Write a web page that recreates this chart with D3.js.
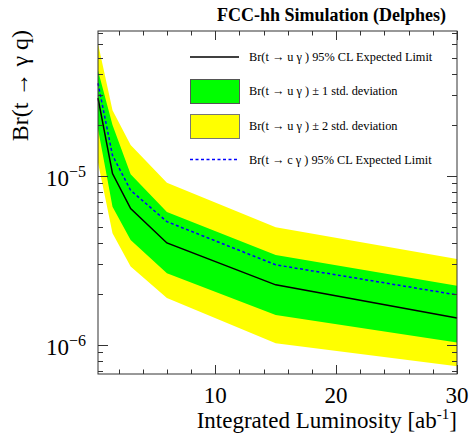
<!DOCTYPE html>
<html>
<head>
<meta charset="utf-8">
<script src="https://cdn.jsdelivr.net/npm/d3@7"></script>
<style>
  body { margin: 0; background: #fff; }
  text { font-family: "Liberation Serif", "DejaVu Serif", serif; }
</style>
</head>
<body>
<div id="chart"></div>
<script>
// luminosity points [ab^-1]
const lumi = [0.3, 1.5, 3, 6, 15, 30];
// Br(t -> u gamma) expected limit and bands
const expU = [2.88e-5, 1.03e-5, 6.4e-6, 4.0e-6, 2.26e-6, 1.44e-6];
const u1Up = [4.2e-5, 2.0e-5, 1.02e-5, 6.1e-6, 3.4e-6, 2.23e-6];
const u1Dn = [1.9e-5, 6.56e-6, 4.17e-6, 2.65e-6, 1.5e-6, 1.03e-6];
const u2Up = [6.08e-5, 2.44e-5, 1.52e-5, 9.1e-6, 4.96e-6, 3.21e-6];
const u2Dn = [1.2e-5, 4.57e-6, 2.9e-6, 1.89e-6, 1.02e-6, 7.45e-7];
// Br(t -> c gamma) expected limit
const expC = [3.53e-5, 1.32e-5, 8.2e-6, 5.35e-6, 2.97e-6, 1.97e-6];

const xMajor = [10, 20, 30];
const yMajor = [1e-6, 1e-5];
const yExp = ["\u22126", "\u22125"];

const legendLabels = [
    "Br(t \u2192 u \u03b3 ) 95% CL Expected Limit",
    "Br(t \u2192 u \u03b3 ) \u00b1 1 std. deviation",
    "Br(t \u2192 u \u03b3 ) \u00b1 2 std. deviation",
    "Br(t \u2192 c \u03b3 ) 95% CL Expected Limit"
];

const width = 470, height = 435;
const margin = { top: 31, right: 13, bottom: 61, left: 98 };

const svg = d3.select("#chart").append("svg")
    .attr("width", width)
    .attr("height", height);

const x = d3.scaleLinear()
    .domain([0.3, 30])
    .range([margin.left, width - margin.right]);

const y = d3.scaleLog()
    .domain([6.7e-7, 7.2e-5])
    .range([height - margin.bottom, margin.top]);

const idx = d3.range(lumi.length);

const band = (lo, hi) => d3.area()
    .x(i => x(lumi[i]))
    .y0(i => y(lo[i]))
    .y1(i => y(hi[i]))(idx);

const line = vals => d3.line()
    .x(i => x(lumi[i]))
    .y(i => y(vals[i]))(idx);

svg.append("path").attr("d", band(u2Dn, u2Up)).attr("fill", "#ffff00");
svg.append("path").attr("d", band(u1Dn, u1Up)).attr("fill", "#00ff00");
svg.append("path").attr("d", line(expU))
    .attr("fill", "none").attr("stroke", "#000").attr("stroke-width", 1.5);
svg.append("path").attr("d", line(expC))
    .attr("fill", "none").attr("stroke", "#0000ff").attr("stroke-width", 1.5)
    .attr("stroke-dasharray", "3,2.5");

// frame
svg.append("rect")
    .attr("x", margin.left).attr("y", margin.top)
    .attr("width", width - margin.left - margin.right)
    .attr("height", height - margin.top - margin.bottom)
    .attr("fill", "none").attr("stroke", "#333").attr("stroke-width", 1);

// x ticks (bottom and top)
const xMinor = d3.range(2, 31, 2).filter(v => !xMajor.includes(v));
const xTickLen = v => xMajor.includes(v) ? 9 : 4.5;
const xAll = xMinor.concat(xMajor);
const gx = svg.append("g").attr("stroke", "#333");
xAll.forEach(v => {
    const px = Math.round(x(v)) + 0.5;
    gx.append("line").attr("x1", px).attr("x2", px)
        .attr("y1", height - margin.bottom).attr("y2", height - margin.bottom - xTickLen(v));
    gx.append("line").attr("x1", px).attr("x2", px)
        .attr("y1", margin.top).attr("y2", margin.top + xTickLen(v));
});
svg.selectAll("text.xlab").data(xMajor).enter().append("text")
    .attr("class", "xlab")
    .attr("x", d => x(d)).attr("y", 403)
    .attr("text-anchor", "middle")
    .attr("font-size", 23)
    .text(d => d);

// y ticks (left and right)
const yMinor = [];
[1e-7, 1e-6, 1e-5].forEach(dec => {
    for (let k = 2; k <= 9; k++) {
        const v = k * dec;
        if (v >= y.domain()[0] && v <= y.domain()[1]) yMinor.push(v);
    }
});
const gy = svg.append("g").attr("stroke", "#333");
yMinor.concat(yMajor).forEach(v => {
    const py = Math.round(y(v)) + 0.5;
    const len = yMajor.includes(v) ? 10 : 5;
    gy.append("line").attr("y1", py).attr("y2", py)
        .attr("x1", margin.left).attr("x2", margin.left + len);
    gy.append("line").attr("y1", py).attr("y2", py)
        .attr("x1", width - margin.right).attr("x2", width - margin.right - len);
});
yMajor.forEach((v, i) => {
    const t = svg.append("text")
        .attr("x", 86).attr("y", y(v) + 10)
        .attr("text-anchor", "end")
        .attr("font-size", 23);
    t.append("tspan").text("10");
    t.append("tspan").attr("dy", -9).attr("font-size", 16).text(yExp[i]);
});

// axis titles
const xt = svg.append("text")
    .attr("x", 457).attr("y", 428)
    .attr("text-anchor", "end")
    .attr("font-size", 23);
xt.append("tspan").text("Integrated Luminosity [ab");
xt.append("tspan").attr("dy", -9).attr("font-size", 15).text("-1");
xt.append("tspan").attr("dy", 9).text("]");

svg.append("text")
    .attr("transform", "translate(28,30) rotate(-90)")
    .attr("text-anchor", "end")
    .attr("font-size", 24)
    .text("Br(t \u2192 \u03b3 q)");

svg.append("text")
    .attr("x", 446).attr("y", 21)
    .attr("text-anchor", "end")
    .attr("font-size", 18)
    .attr("font-weight", "bold")
    .text("FCC-hh Simulation (Delphes)");

// legend
const lg = svg.append("g");
const rowY = [57, 91, 126, 159.5];
const lx0 = 190, lx1 = 239;
lg.append("line").attr("x1", lx0).attr("x2", lx1).attr("y1", rowY[0]).attr("y2", rowY[0])
    .attr("stroke", "#000").attr("stroke-width", 1.5);
lg.append("rect").attr("x", lx0 + 0.5).attr("y", rowY[1] - 11.5).attr("width", lx1 - lx0).attr("height", 24)
    .attr("fill", "#00ff00").attr("stroke", "#555");
lg.append("rect").attr("x", lx0 + 0.5).attr("y", rowY[2] - 11.5).attr("width", lx1 - lx0).attr("height", 24)
    .attr("fill", "#ffff00").attr("stroke", "#777");
lg.append("line").attr("x1", lx0).attr("x2", lx1).attr("y1", rowY[3]).attr("y2", rowY[3])
    .attr("stroke", "#0000ff").attr("stroke-width", 1.5).attr("stroke-dasharray", "3,2.5");
lg.selectAll("text").data(legendLabels).enter().append("text")
    .attr("x", 249).attr("y", (d, i) => rowY[i] + 4)
    .attr("font-size", 12.3)
    .text(d => d);
</script>
</body>
</html>
